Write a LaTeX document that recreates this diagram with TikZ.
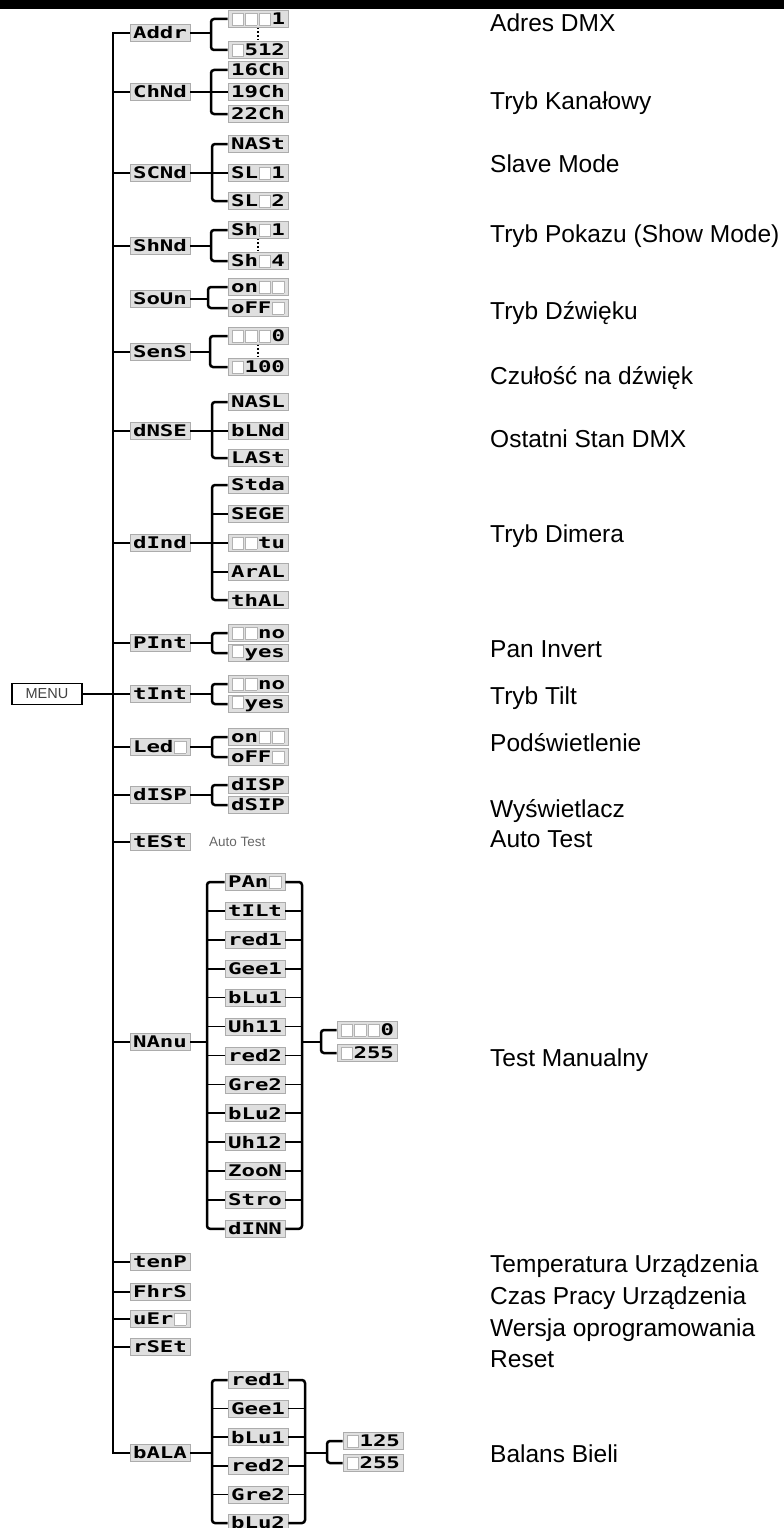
\documentclass[tikz,border=0pt]{standalone}
\usepackage{fontspec}
\setmainfont{Liberation Sans}
\newfontfamily\lcdfam[FakeStretch=1.4]{DejaVu Sans Mono}
\usetikzlibrary{calc}
\setlength{\fboxsep}{0pt}
\setlength{\fboxrule}{0.7pt}
\newcommand\E{\makebox[13.5pt]{\fcolorbox{gray!60}{white}{\rule{0pt}{11.5pt}\rule{11pt}{0pt}}}}
\newcommand\bgroupline[4]{%
  \coordinate (#1-bx) at (#2,0);
  \draw[br] (#3.west) -- (#3.west -| #1-bx) -- (#4.west -| #1-bx) -- (#4.west);
  \draw[br] (#1.east) -- (#1.east -| #1-bx);
}
\tikzset{
  lcd/.style={draw=gray!65, line width=0.6pt, fill=gray!25, minimum width=60pt,
    minimum height=17pt, inner sep=0pt,
    font=\lcdfam\bfseries\fontsize{16}{16}\selectfont, text=black},
  trunk/.style={line width=1.4pt},
  br/.style={line width=2.5pt, rounded corners=3pt},
  st/.style={line width=1.6pt},
  dots/.style={dotted, line width=1.6pt},
  desc/.style={anchor=base west, inner sep=0pt, font=\fontsize{24.5}{28}\selectfont},
  menubox/.style={draw, line width=1.2pt, minimum width=70pt, minimum height=21pt,
    inner sep=0pt, font=\fontsize{14.5}{14.5}\selectfont, text=black!75}
}
\begin{document}
\begin{tikzpicture}[x=1pt,y=-1pt]
\useasboundingbox (0,0) rectangle (784,1528);
\fill[black] (0,0) rectangle (784,9);

% ---------- top level ----------
\node[lcd] (addr) at (160,33) {Addr};
\node[lcd] (chnd) at (160,92) {ChNd};
\node[lcd] (scnd) at (160,173) {SCNd};
\node[lcd] (shnd) at (160,246) {ShNd};
\node[lcd] (soun) at (160,299) {SoUn};
\node[lcd] (sens) at (160,352) {SenS};
\node[lcd] (dnse) at (160,431) {dNSE};
\node[lcd] (dind) at (160,543) {dInd};
\node[lcd] (pint) at (160,643) {PInt};
\node[lcd] (tint) at (160,694) {tInt};
\node[lcd] (led)  at (160,747) {Led\E{}};
\node[lcd] (disp) at (160,795) {dISP};
\node[lcd] (test) at (160,842) {tESt};
\node[lcd] (manu) at (160,1042) {NAnu};
\node[lcd] (temp) at (160,1262) {tenP};
\node[lcd] (fhrs) at (160,1292) {FhrS};
\node[lcd] (ver)  at (160,1319) {uEr\E{}};
\node[lcd] (rset) at (160,1347) {rSEt};
\node[lcd] (bala) at (160,1453) {bALA};

\node[menubox] (menu) at (47,694) {MENU};

\coordinate (tb) at (113,1453);
\draw[trunk] (addr.west) -| (tb) -- (bala.west);
\foreach \n in {chnd,scnd,shnd,sens,dnse,dind,pint,tint,led,disp,test,manu,temp,fhrs,ver,rset}
  \draw[trunk] (\n.west) -- (\n.west -| tb);
\draw[trunk] (menu.east) -- (menu.east -| tb);

\node[anchor=west, inner sep=0pt, font=\fontsize{13.5}{13.5}\selectfont, text=black!60] (autot) at (209,842) {Auto Test};

% ---------- Addr ----------
\node[lcd] (a1) at (258,19) {\E{}\E{}\E{}1};
\node[lcd] (a2) at (258,50) {\E{}512};
\bgroupline{addr}{211}{a1}{a2}
\draw[dots] (a1.south) -- (a2.north);

% ---------- ChNd ----------
\node[lcd] (c1) at (258,70) {16Ch};
\node[lcd] (c2) at (258,92) {19Ch};
\node[lcd] (c3) at (258,114) {22Ch};
\bgroupline{chnd}{211}{c1}{c3}
\draw[st] (c2.west) -- (c2.west -| chnd-bx);

% ---------- SCNd ----------
\node[lcd] (s1) at (258,144) {NASt};
\node[lcd] (s2) at (258,173) {SL\E{}1};
\node[lcd] (s3) at (258,201) {SL\E{}2};
\bgroupline{scnd}{212}{s1}{s3}
\draw[st] (s2.west) -- (s2.west -| scnd-bx);

% ---------- ShNd ----------
\node[lcd] (h1) at (258,230) {Sh\E{}1};
\node[lcd] (h2) at (258,261) {Sh\E{}4};
\bgroupline{shnd}{211}{h1}{h2}
\draw[dots] (h1.south) -- (h2.north);

% ---------- SoUn ----------
\node[lcd] (o1) at (258,287) {on\E{}\E{}};
\node[lcd] (o2) at (258,308) {oFF\E{}};
\bgroupline{soun}{208}{o1}{o2}

% ---------- SenS ----------
\node[lcd] (e1) at (258,336) {\E{}\E{}\E{}0};
\node[lcd] (e2) at (258,367) {\E{}100};
\bgroupline{sens}{210}{e1}{e2}
\draw[dots] (e1.south) -- (e2.north);

% ---------- dNSE ----------
\node[lcd] (n1) at (258,402) {NASL};
\node[lcd] (n2) at (258,431) {bLNd};
\node[lcd] (n3) at (258,458) {LASt};
\bgroupline{dnse}{212}{n1}{n3}
\draw[st] (n2.west) -- (n2.west -| dnse-bx);

% ---------- dInd ----------
\node[lcd] (d1) at (258,485) {Stda};
\node[lcd] (d2) at (258,514) {SEGE};
\node[lcd] (d3) at (258,543) {\E{}\E{}tu};
\node[lcd] (d4) at (258,572) {ArAL};
\node[lcd] (d5) at (258,600) {thAL};
\bgroupline{dind}{212}{d1}{d5}
\foreach \c in {d2,d3,d4} \draw[st] (\c.west) -- (\c.west -| dind-bx);

% ---------- PInt ----------
\node[lcd] (p1) at (258,633) {\E{}\E{}no};
\node[lcd] (p2) at (258,653) {\E{}yes};
\bgroupline{pint}{212}{p1}{p2}

% ---------- tInt ----------
\node[lcd] (t1) at (258,684) {\E{}\E{}no};
\node[lcd] (t2) at (258,704) {\E{}yes};
\bgroupline{tint}{212}{t1}{t2}

% ---------- Led ----------
\node[lcd] (l1) at (258,737) {on\E{}\E{}};
\node[lcd] (l2) at (258,757) {oFF\E{}};
\bgroupline{led}{212}{l1}{l2}

% ---------- dISP ----------
\node[lcd] (i1) at (258,785) {dISP};
\node[lcd] (i2) at (258,805) {dSIP};
\bgroupline{disp}{212}{i1}{i2}

% ---------- NAnu ----------
\foreach \t [count=\k] in {PAn\E{},tILt,red1,Gee1,bLu1,Uh11,red2,Gre2,bLu2,Uh12,ZooN,Stro,dINN}
  \node[lcd] (mu\k) at (255,{882+28.9*(\k-1)}) {\t};
\bgroupline{manu}{207}{mu1}{mu13}
\coordinate (manu-rb) at (302,0);
\draw[br] (mu1.east) -- (mu1.east -| manu-rb) -- (mu13.east -| manu-rb) -- (mu13.east);
\foreach \k in {2,...,12} {
  \draw[st] (mu\k.west) -- (mu\k.west -| manu-bx);
  \draw[st] (mu\k.east) -- (mu\k.east -| manu-rb);
}
\node[lcd] (mv1) at (367,1030) {\E{}\E{}\E{}0};
\node[lcd] (mv2) at (367,1053) {\E{}255};
\coordinate (manu-bx2) at (321,0);
\draw[br] (mv1.west) -- (mv1.west -| manu-bx2) -- (mv2.west -| manu-bx2) -- (mv2.west);
\draw[br] (manu.east -| manu-rb) -- (manu.east -| manu-bx2);

% ---------- bALA ----------
\foreach \t [count=\k] in {red1,Gee1,bLu1,red2,Gre2,bLu2}
  \node[lcd] (ba\k) at (258,{1380+28.6*(\k-1)}) {\t};
\bgroupline{bala}{212}{ba1}{ba6}
\coordinate (bala-rb) at (305,0);
\draw[br] (ba1.east) -- (ba1.east -| bala-rb) -- (ba6.east -| bala-rb) -- (ba6.east);
\foreach \k in {2,...,5} {
  \draw[st] (ba\k.west) -- (ba\k.west -| bala-bx);
  \draw[st] (ba\k.east) -- (ba\k.east -| bala-rb);
}
\node[lcd] (bv1) at (373,1441) {\E{}125};
\node[lcd] (bv2) at (373,1463) {\E{}255};
\coordinate (bala-bx2) at (327,0);
\draw[br] (bv1.west) -- (bv1.west -| bala-bx2) -- (bv2.west -| bala-bx2) -- (bv2.west);
\draw[br] (bala.east -| bala-rb) -- (bala.east -| bala-bx2);

% ---------- descriptions ----------
\node[desc] (x1)  at (490,32)   {Adres DMX};
\node[desc] (x2)  at (490,109)  {Tryb Kanałowy};
\node[desc] (x3)  at (490,172)  {Slave Mode};
\node[desc] (x4)  at (490,242)  {Tryb Pokazu (Show Mode)};
\node[desc] (x5)  at (490,319)  {Tryb Dźwięku};
\node[desc] (x6)  at (490,384)  {Czułość na dźwięk};
\node[desc] (x7)  at (490,447)  {Ostatni Stan DMX};
\node[desc] (x8)  at (490,542)  {Tryb Dimera};
\node[desc] (x9)  at (490,657)  {Pan Invert};
\node[desc] (x10) at (490,704)  {Tryb Tilt};
\node[desc] (x11) at (490,751)  {Podświetlenie};
\node[desc] (x12) at (490,817)  {Wyświetlacz};
\node[desc] (x13) at (490,847)  {Auto Test};
\node[desc] (x14) at (490,1066) {Test Manualny};
\node[desc] (x15) at (490,1272) {Temperatura Urządzenia};
\node[desc] (x16) at (490,1304) {Czas Pracy Urządzenia};
\node[desc] (x17) at (490,1336) {Wersja oprogramowania};
\node[desc] (x18) at (490,1367) {Reset};
\node[desc] (x19) at (490,1462) {Balans Bieli};
\end{tikzpicture}
\end{document}
